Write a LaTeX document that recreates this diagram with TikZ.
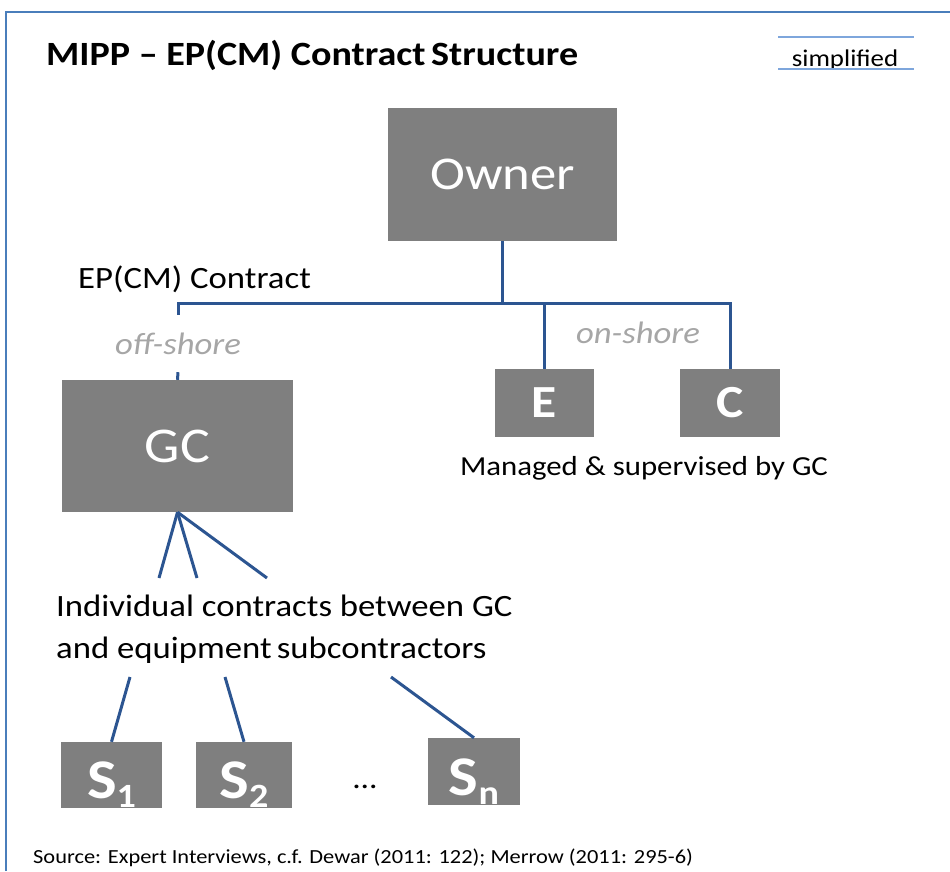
\documentclass[tikz,border=0pt]{standalone}
\usepackage{fontspec}
\setmainfont{Carlito}[FakeStretch=1.12]
\usetikzlibrary{positioning,calc}

\definecolor{boxgray}{HTML}{7F7F7F}
\definecolor{linkblue}{HTML}{2C5591}
\definecolor{frameblue}{HTML}{4A7EBB}
\definecolor{ruleblue}{HTML}{7EA6DC}
\definecolor{notegray}{HTML}{A6A6A6}

\newcommand{\fsz}[1]{\fontsize{#1}{1.2\dimexpr#1pt\relax}\selectfont}
\newcommand{\subidx}[1]{\raisebox{-9pt}{\fsz{34}#1}}
\newcommand{\lowsub}[2]{\smash{\raisebox{-#1}{#2}}}

\begin{document}
\begin{tikzpicture}[
        %We work in pixels of the page, y going down
        x=1pt, y=-1pt,
        party/.style={fill=boxgray, text=white, inner sep=0pt},
        big party/.style={party, font=\fsz{48}},
        sub party/.style={party, font=\fsz{46}\bfseries},
        end party/.style={party, font=\fsz{56}\bfseries},
        link/.style={linkblue, line width=3pt},
        note/.style={text=notegray, font=\fsz{31}\itshape, inner sep=0pt},
        label/.style={text=black, inner sep=0pt}
     ]
    \useasboundingbox (0,0) rectangle (950,871);
    % frame and title
    \draw[frameblue, line width=1.3pt] (6,871) -- (6,12) -- (950,12);
    \node[label, anchor=base west, font=\fsz{34}\bfseries] (title) at (46,65)
        {MIPP -- EP(CM) Contract\,Structure};
    \node[label, anchor=base, font=\fsz{24}] (simple) at (845,66) {simplified};
    \draw[ruleblue, line width=1.6pt] (778,37) -- (914,37);
    \draw[ruleblue, line width=1.6pt] (778,69) -- (914,69);

    % Important coordinates are defined
    \coordinate (bus) at (0,303);

    % the parties
    \node[big party, font=\fsz{47}, minimum width=229pt, minimum height=133pt] (owner) at (502.5,174.5) {Owner};
    \node[big party, font=\fsz{50}, minimum width=231pt, minimum height=132pt] (gc) at (177.5,446) {GC};
    \node[sub party, minimum width=99pt, minimum height=68pt] (e) at (544.5,403) {E};
    \node[sub party, minimum width=100pt, minimum height=68pt] (c) at (730,403) {C};
    \node[end party, minimum width=101pt, minimum height=66pt] (s1) at (111.5,775) {\lowsub{23pt}{S\subidx{1}}};
    \node[end party, minimum width=96pt, minimum height=66pt] (s2) at (244,775) {\lowsub{23pt}{S\subidx{2}}};
    \node[end party, minimum width=92pt, minimum height=67pt] (sn) at (474,771.5) {\lowsub{23.5pt}{S\subidx{n}}};
    \node[label, font=\fsz{30}] (dots) at (365,787) {...};

    % texts
    \node[label, anchor=base west, font=\fsz{31}] (epcm) at (78,288) {EP(CM) Contract};
    \node[note, minimum height=57pt] (offshore) at (178,343.5) {off-shore};
    \node[note, anchor=base] (onshore) at (638,343) {on-shore};
    \node[label, anchor=base, font=\fsz{27.5}] (managed) at (644,475) {Managed \& supervised by GC};
    \node[label, anchor=north west, align=left, font=\fontsize{31}{42}\selectfont] (indiv) at (56,595)
        {Individual contracts between GC\\and equipment\,subcontractors};
    \node[label, anchor=base west, font=\fsz{20}] (source) at (33,863)
        {Source: Expert Interviews, c.f. Dewar (2011: 122); Merrow (2011: 295-6)};

    % EP(CM) contract lines
    \draw[link] (offshore.north) |- (c.north |- bus) -- (c.north);
    \draw[link] (owner.south) -- (owner.south |- bus);
    \draw[link] (e.north |- bus) -- (e.north);
    \draw[link] (offshore.south) -- (gc.north);

    % individual contracts
    \coordinate (t1) at (159,578);
    \coordinate (t2) at (197,578);
    \coordinate (t3) at (267,578);
    \coordinate (b1) at (130,677);
    \coordinate (b2) at (225,677);
    \coordinate (b3) at (391,677);
    \foreach \t in {t1,t2,t3}
        \draw[link] (gc.south) -- (\t);
    \draw[link] (b1) -- (s1.north);
    \draw[link] (b2) -- (s2.north);
    \draw[link] (b3) -- (sn.north);
\end{tikzpicture}
\end{document}
